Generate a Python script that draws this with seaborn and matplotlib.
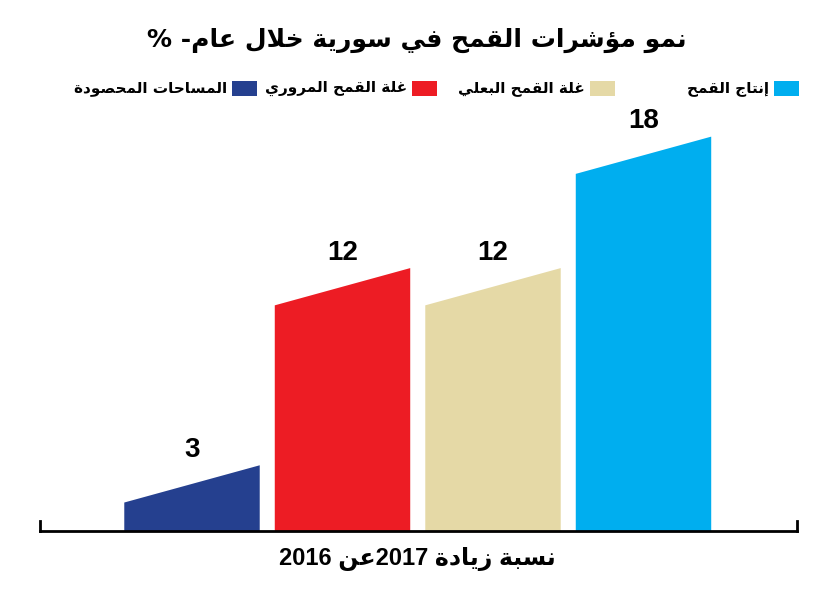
import re
import pandas as pd
import matplotlib
matplotlib.use("Agg")
import matplotlib.pyplot as plt
from matplotlib.patches import Polygon, Rectangle
import seaborn as sns

# data, left to right as drawn
categories = ["المساحات المحصودة", "غلة القمح المروري", "غلة القمح البعلي", "إنتاج القمح"]
values = [3, 12, 12, 18]
colors = ["#25408F", "#ED1C24", "#E5D9A6", "#00AEEF"]

title = "نمو مؤشرات القمح في سورية خلال عام- %"
xlabel = "نسبة زيادة 2017عن 2016"

# Arabic shaping (matplotlib does no shaping / bidi on its own)
FORMS = {  # isolated, final, initial, medial
    "ا": ("\uFE8D", "\uFE8E", None, None),
    "إ": ("\uFE87", "\uFE88", None, None),
    "ؤ": ("\uFE85", "\uFE86", None, None),
    "ب": ("\uFE8F", "\uFE90", "\uFE91", "\uFE92"),
    "ة": ("\uFE93", "\uFE94", None, None),
    "ت": ("\uFE95", "\uFE96", "\uFE97", "\uFE98"),
    "ج": ("\uFE9D", "\uFE9E", "\uFE9F", "\uFEA0"),
    "ح": ("\uFEA1", "\uFEA2", "\uFEA3", "\uFEA4"),
    "خ": ("\uFEA5", "\uFEA6", "\uFEA7", "\uFEA8"),
    "د": ("\uFEA9", "\uFEAA", None, None),
    "ر": ("\uFEAD", "\uFEAE", None, None),
    "ز": ("\uFEAF", "\uFEB0", None, None),
    "س": ("\uFEB1", "\uFEB2", "\uFEB3", "\uFEB4"),
    "ش": ("\uFEB5", "\uFEB6", "\uFEB7", "\uFEB8"),
    "ص": ("\uFEB9", "\uFEBA", "\uFEBB", "\uFEBC"),
    "ع": ("\uFEC9", "\uFECA", "\uFECB", "\uFECC"),
    "غ": ("\uFECD", "\uFECE", "\uFECF", "\uFED0"),
    "ف": ("\uFED1", "\uFED2", "\uFED3", "\uFED4"),
    "ق": ("\uFED5", "\uFED6", "\uFED7", "\uFED8"),
    "ل": ("\uFEDD", "\uFEDE", "\uFEDF", "\uFEE0"),
    "م": ("\uFEE1", "\uFEE2", "\uFEE3", "\uFEE4"),
    "ن": ("\uFEE5", "\uFEE6", "\uFEE7", "\uFEE8"),
    "و": ("\uFEED", "\uFEEE", None, None),
    "ي": ("\uFEF1", "\uFEF2", "\uFEF3", "\uFEF4"),
    "لا": ("\uFEFB", "\uFEFC", None, None),
}


def ar(text):
    chars = []
    i = 0
    while i < len(text):
        if text[i] == "ل" and i + 1 < len(text) and text[i + 1] == "ا":
            chars.append("لا")
            i += 2
        else:
            chars.append(text[i])
            i += 1
    out = []
    for k, c in enumerate(chars):
        if c not in FORMS:
            out.append(c)
            continue
        prev = chars[k - 1] if k > 0 else None
        nxt = chars[k + 1] if k + 1 < len(chars) else None
        jp = prev in FORMS and FORMS[prev][2] is not None
        jn = FORMS[c][2] is not None and nxt in FORMS
        iso, fin, ini, med = FORMS[c]
        if jp and jn:
            out.append(med)
        elif jp:
            out.append(fin)
        elif jn:
            out.append(ini)
        else:
            out.append(iso)
    s = "".join(out)[::-1]
    return re.sub(r"[0-9]+", lambda m: m.group()[::-1], s)


sns.set_theme(style="white")
plt.rcParams["font.family"] = ["DejaVu Sans"]

W, H = 815, 589
fig = plt.figure(figsize=(W / 100, H / 100), dpi=100)
ax = fig.add_axes([40 / W, 58 / H, 757 / W, 482 / H])

df = pd.DataFrame({"cat": categories, "val": values})
sns.barplot(data=df, x="cat", y="val", hue="cat", palette=colors,
            width=0.9, legend=False, ax=ax, saturation=1)

# turn the rectangles into bars with a slanted top
drop = 1.7
for p in list(ax.patches):
    x0, w, h = p.get_x(), p.get_width(), p.get_height()
    poly = Polygon([(x0, 0), (x0 + w, 0), (x0 + w, h), (x0, h - drop)],
                   closed=True, facecolor=p.get_facecolor(), edgecolor="none")
    p.remove()
    ax.add_patch(poly)

for i, v in enumerate(values):
    ax.text(i, v + 0.1, str(v), ha="center", va="bottom",
            fontsize=20, fontweight="bold", color="black",
            family=["Liberation Sans", "DejaVu Sans"])

ax.set_xlim(-1.01, 4.02)
ax.set_ylim(0, 22)
ax.set_xticks([])
ax.set_yticks([])
ax.set_xlabel("")
ax.set_ylabel("")
ax.spines["top"].set_visible(False)
for side in ["bottom", "left", "right"]:
    ax.spines[side].set_color("black")
    ax.spines[side].set_linewidth(2)
ax.spines["left"].set_bounds(0, 0.45)
ax.spines["right"].set_bounds(0, 0.45)

fig.text(417 / W, 1 - 40 / H, ar(title), ha="center", va="center",
         fontsize=18, fontweight="bold", color="black")
fig.text(417 / W, 1 - 559 / H, ar(xlabel), ha="center", va="center",
         fontsize=17, fontweight="bold", color="black",
         family=["Liberation Sans", "DejaVu Sans"])

# legend: text then colour square on its right (RTL)
sq_left = [232, 412, 590, 774]
for cat, col, sx in zip(categories, colors, sq_left):
    fig.add_artist(Rectangle((sx / W, 1 - 96 / H), 25 / W, 15 / H,
                             transform=fig.transFigure, facecolor=col,
                             edgecolor="none"))
    fig.text((sx - 5) / W, 1 - 88.5 / H, ar(cat), ha="right", va="center",
             fontsize=11, fontweight="bold", color="black")

fig.savefig("out.png", dpi=100)
